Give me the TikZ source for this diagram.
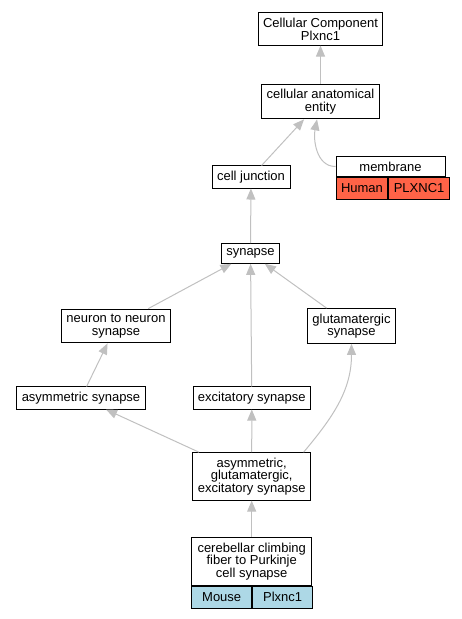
\documentclass[tikz,border=0pt]{standalone}
\usepackage{fontspec}
\setmainfont{Liberation Sans}
\usetikzlibrary{arrows.meta,positioning}

\definecolor{edgegray}{RGB}{192,192,192}
\definecolor{humanred}{RGB}{255,99,71}
\definecolor{mouseblue}{RGB}{173,216,230}

\begin{document}
\begin{tikzpicture}[x=1pt,y=-1pt,>={Triangle[length=11pt,width=9pt]},->,
                    font=\fontsize{13}{12.7}\selectfont]

  \tikzstyle{term}=[rectangle,draw,line width=0.9pt,align=center,
                    inner xsep=5pt,inner ysep=5pt]
  \tikzstyle{cell}=[term,minimum height=22pt,inner ysep=2pt,anchor=north west]
  \tikzstyle{isa}=[draw=edgegray,line width=1pt]

  \useasboundingbox (0,0) rectangle (461,619);

  \node[term] (CCP) at (320.5,29)    {Cellular Component \\ Plxnc1};
  \node[term] (CAE) at (320.5,101.5) {cellular anatomical \\ entity};
  \node[term] (CJ)  at (251,177)     {cell junction};

  \node[term,minimum width=109pt] (MEM) at (390.5,166.5) {membrane};
  \node[cell,fill=humanred,minimum width=51pt]  (MEMSP) at (MEM.south west)  {Human};
  \node[cell,fill=humanred,minimum width=58pt]  (MEMGN) at (MEMSP.north east) {PLXNC1};

  \node[term] (SYN) at (250.5,253.5) {synapse};
  \node[term] (NTN) at (116,326)     {neuron to neuron \\ synapse};
  \node[term] (GLU) at (351.5,326)   {glutamatergic \\ synapse};
  \node[term] (ASY) at (81,398)      {asymmetric synapse};
  \node[term] (EXC) at (251.8,398)   {excitatory synapse};
  \node[term] (AGE) at (251.7,476.4) {asymmetric, \\ glutamatergic, \\ excitatory synapse};

  \node[term,minimum width=120pt] (CFP) at (251.7,561.4)
       {cerebellar climbing \\ fiber to Purkinje \\ cell synapse};
  \node[cell,fill=mouseblue,minimum width=60pt] (CFPSP) at (CFP.south west)  {Mouse};
  \node[cell,fill=mouseblue,minimum width=60pt] (CFPGN) at (CFPSP.north east) {Plxnc1};

  \draw[isa] (CAE) -- (CCP);
  \draw[isa] (CJ)  -- (CAE);
  \draw[isa] (MEM.west) to [out=180,in=-101] (CAE);
  \draw[isa] (SYN) -- (CJ);
  \draw[isa] (NTN) -- (SYN);
  \draw[isa] (EXC) -- (SYN);
  \draw[isa] (GLU) -- (SYN);
  \draw[isa] (ASY) -- (NTN);
  \draw[isa] (AGE) -- (ASY);
  \draw[isa] (AGE) -- (EXC);
  \draw[isa] (AGE.25) to [out=50,in=-90] (GLU);
  \draw[isa] (CFP) -- (AGE);
\end{tikzpicture}
\end{document}
